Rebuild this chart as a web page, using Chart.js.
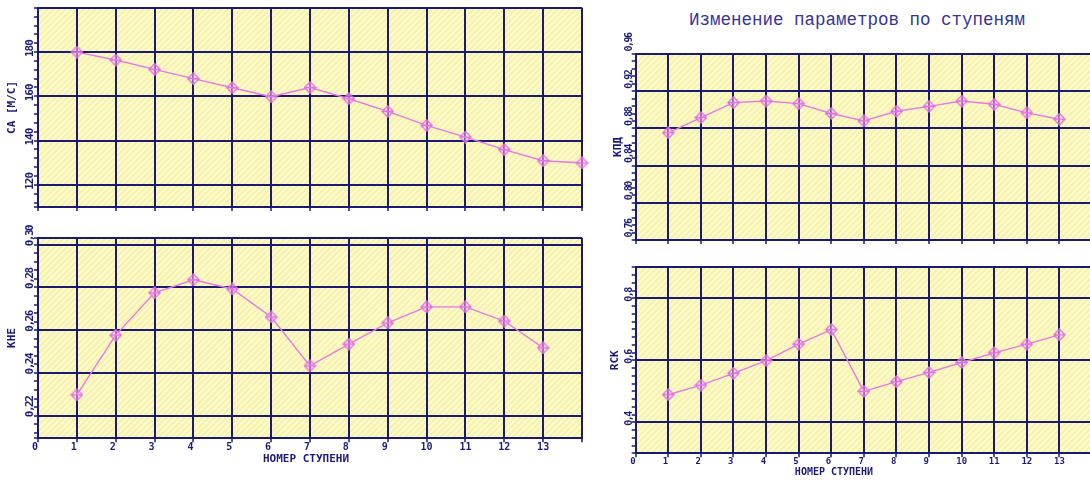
<!DOCTYPE html>
<html lang="ru">
<head>
<meta charset="utf-8">
<title>Изменение параметров по ступеням</title>
<script src="https://cdn.jsdelivr.net/npm/chart.js@4.4.1/dist/chart.umd.min.js"></script>
<style>
  html, body { margin:0; padding:0; width:1090px; height:481px; overflow:hidden; background:#fff; }
  canvas { position:absolute; }
  #title { position:absolute; left:600px; top:11.6px; width:514px; text-align:center;
           font:17.5px/17.5px "Liberation Mono", "DejaVu Sans Mono", monospace;
           color:#34349a; white-space:nowrap; }
</style>
</head>
<body>
<div id="title">Изменение параметров по ступеням</div>
<canvas id="velocity" width="600" height="230" style="left:0;top:0"></canvas>
<canvas id="head" width="600" height="266" style="left:0;top:215px"></canvas>
<canvas id="efficiency" width="500" height="220" style="left:600px;top:30px"></canvas>
<canvas id="reaction" width="500" height="231" style="left:600px;top:250px"></canvas>
<script>
// Stage numbers on the horizontal axes
const stagesWithOutlet = [1, 2, 3, 4, 5, 6, 7, 8, 9, 10, 11, 12, 13, 14];
const stages = [1, 2, 3, 4, 5, 6, 7, 8, 9, 10, 11, 12, 13];
const stageTickLabels = ['0', '1', '2', '3', '4', '5', '6', '7', '8', '9', '10', '11', '12', '13'];

// Axial velocity CA, m/s
const velocity = [180.0, 176.4, 172.2, 168.0, 163.9, 159.8, 164.0, 158.9, 153.2, 146.9, 141.6, 135.9, 130.9, 129.9];
// Head coefficient
const headCoef = [0.2297, 0.2577, 0.2775, 0.2836, 0.2793, 0.2662, 0.2433, 0.2535, 0.2634, 0.2709, 0.2709, 0.2643, 0.2517];
// Stage efficiency
const efficiency = [0.8753, 0.8917, 0.9077, 0.9094, 0.9066, 0.8960, 0.8881, 0.8984, 0.9037, 0.9094, 0.9059, 0.8967, 0.8899];
// Degree of reaction
const reaction = [0.489, 0.520, 0.558, 0.599, 0.652, 0.699, 0.500, 0.531, 0.561, 0.593, 0.624, 0.652, 0.682];

// Labelled values of the vertical axes
const velocityLabels = [120, 140, 160, 180];
const headLabels = [0.22, 0.24, 0.26, 0.28, 0.30];
const efficiencyLabels = [0.76, 0.80, 0.84, 0.88, 0.92, 0.96];
const reactionLabels = [0.4, 0.6, 0.8];

const NAVY = '#1a1a6e';
const TEXT = '#1c1c78';
const LINE = '#e47ae4';
const MONO = '"DejaVu Sans Mono", "Liberation Mono", monospace';

// Pale yellow field with light diagonal hatching
function hatchPattern(ctx) {
  const c = document.createElement('canvas');
  c.width = c.height = 6;
  const g = c.getContext('2d');
  g.fillStyle = '#f7f3a8';
  g.fillRect(0, 0, 6, 6);
  g.strokeStyle = '#fdfbdc';
  g.lineWidth = 1.6;
  g.beginPath();
  g.moveTo(-1, 7); g.lineTo(7, -1);
  g.moveTo(-1, 1); g.lineTo(1, -1);
  g.moveTo(5, 7); g.lineTo(7, 5);
  g.stroke();
  return ctx.createPattern(c, 'repeat');
}

// Diamond marker with a cross inside
function diamondMarker() {
  const s = 13, m = 6.5;
  const c = document.createElement('canvas');
  c.width = c.height = s;
  const g = c.getContext('2d');
  g.strokeStyle = '#e06ce0';
  g.lineWidth = 1.3;
  g.beginPath();
  g.moveTo(m, 0.8); g.lineTo(s - 0.8, m); g.lineTo(m, s - 0.8); g.lineTo(0.8, m); g.closePath();
  g.fillStyle = 'rgba(255,240,255,0.35)';
  g.fill();
  g.stroke();
  g.beginPath();
  g.moveTo(m, 1.8); g.lineTo(m, s - 1.8);
  g.moveTo(1.8, m); g.lineTo(s - 1.8, m);
  g.stroke();
  return c;
}
const marker = diamondMarker();

// Tick list for a vertical axis: frame edges, labelled grid values and minor marks
function yTickList(min, max, gridValues, minorStep) {
  const out = [{ value: min, line: true }, { value: max, line: true }];
  const start = Math.ceil(min / minorStep - 1e-9);
  for (let k = start; k * minorStep <= max + 1e-9; k++) {
    const v = +(k * minorStep).toFixed(6);
    if (Math.abs(v - min) < 1e-9 || Math.abs(v - max) < 1e-9) continue;
    out.push({ value: v, line: gridValues.some(g => Math.abs(g - v) < 1e-7) });
  }
  return out.sort((a, b) => a.value - b.value);
}

function makeChart(spec) {
  const ctx = document.getElementById(spec.id).getContext('2d');

  const decorations = {
    id: 'decorations_' + spec.id,
    beforeDraw(chart) {
      const a = chart.chartArea, c = chart.ctx;
      c.save();
      c.fillStyle = hatchPattern(c);
      c.fillRect(a.left, a.top, a.right - a.left, a.bottom - a.top);
      c.restore();
    },
    afterDraw(chart) {
      const a = chart.chartArea, c = chart.ctx, y = chart.scales.y;
      c.save();
      c.fillStyle = TEXT;
      c.font = spec.labelFont;
      c.letterSpacing = spec.labelSpacing;
      c.textAlign = 'left';
      c.textBaseline = 'middle';
      spec.labels.forEach((v, i) => {
        c.save();
        c.translate(a.left - spec.labelGap, y.getPixelForValue(v) + spec.labelShift);
        c.rotate(-Math.PI / 2);
        c.fillText(spec.labelTexts[i], 0, 0);
        c.restore();
      });
      if (spec.xTitle) {
        c.letterSpacing = '0px';
        c.font = spec.xTitle.font;
        c.textAlign = 'center';
        c.fillText('НОМЕР СТУПЕНИ', spec.xTitle.x, spec.xTitle.y);
      }
      c.restore();
    }
  };

  return new Chart(ctx, {
    type: 'line',
    data: {
      datasets: [{
        data: spec.xs.map((x, i) => ({ x, y: spec.ys[i] })),
        borderColor: LINE,
        borderWidth: 1.4,
        pointStyle: marker,
        pointRadius: 6,
        tension: 0,
        clip: false
      }]
    },
    options: {
      responsive: false,
      animation: false,
      events: [],
      layout: { padding: { top: spec.padTop, right: spec.padRight, left: 0, bottom: 0 } },
      plugins: { legend: { display: false }, tooltip: { enabled: false }, title: { display: false } },
      scales: {
        x: {
          type: 'linear',
          min: 0,
          max: 14,
          afterBuildTicks: s => { s.ticks = stageTickLabels.concat(['']).map((_, v) => ({ value: v, line: true })); },
          afterFit: s => { s.height = spec.xHeight; },
          grid: { color: NAVY, lineWidth: 2, tickLength: 4, tickColor: NAVY, tickWidth: 1.5 },
          border: { display: true, color: NAVY, width: 2 },
          ticks: {
            autoSkip: false,
            maxRotation: 0,
            padding: 0,
            color: TEXT,
            font: { family: MONO, size: spec.tickSize, weight: 'bold', lineHeight: 1 },
            callback: v => {
              if (!spec.showXLabels) return '';
              const t = stageTickLabels[v];
              if (t === undefined) return '';
              return t.length === 1 ? t + ' ' : t;
            }
          }
        },
        y: {
          type: 'linear',
          min: spec.yMin,
          max: spec.yMax,
          afterBuildTicks: s => { s.ticks = yTickList(spec.yMin, spec.yMax, spec.labels, spec.minorStep); },
          afterFit: s => { s.width = spec.yWidth; },
          grid: {
            color: c => (c.tick && c.tick.line ? NAVY : 'rgba(0,0,0,0)'),
            lineWidth: 2,
            tickLength: 4,
            tickColor: NAVY,
            tickWidth: 1.5
          },
          border: { display: true, color: NAVY, width: 2 },
          ticks: { autoSkip: false, callback: () => '', font: { size: 8 } },
          title: {
            display: true,
            text: spec.yTitle,
            color: TEXT,
            font: { family: MONO, size: 11, weight: 'bold', lineHeight: 1.2 },
            padding: { top: spec.yTitlePad, bottom: 0 }
          }
        }
      }
    },
    plugins: [decorations]
  });
}

const comma = d => v => v.toFixed(d).replace('.', ',');

makeChart({
  id: 'velocity', xs: stagesWithOutlet, ys: velocity,
  yMin: 110, yMax: 200, minorStep: 4,
  labels: velocityLabels, labelTexts: velocityLabels.map(String),
  labelFont: 'bold 11px ' + MONO, labelSpacing: '-1px', labelGap: 8, labelShift: 5,
  yTitle: 'СА [М/С]', yTitlePad: 5.9,
  padTop: 7, padRight: 18, yWidth: 38, xHeight: 23,
  tickSize: 10, showXLabels: false
});

makeChart({
  id: 'head', xs: stages, ys: headCoef,
  yMin: 0.2094, yMax: 0.3033, minorStep: 0.004,
  labels: headLabels, labelTexts: headLabels.map(comma(2)),
  labelFont: 'bold 11px ' + MONO, labelSpacing: '-1.5px', labelGap: 8, labelShift: 1.5,
  yTitle: 'КНЕ', yTitlePad: 5.9,
  padTop: 22.7, padRight: 18, yWidth: 38, xHeight: 42.7,
  tickSize: 10, showXLabels: true,
  xTitle: { x: 306, y: 244, font: 'bold 11px ' + MONO }
});

makeChart({
  id: 'efficiency', xs: stages, ys: efficiency,
  yMin: 0.76, yMax: 0.96, minorStep: 0.008,
  labels: efficiencyLabels, labelTexts: efficiencyLabels.map(comma(2)),
  labelFont: 'bold 10px ' + MONO, labelSpacing: '-1.5px', labelGap: 6.5, labelShift: -2.5,
  yTitle: 'КПД', yTitlePad: 11.9,
  padTop: 24, padRight: 8, yWidth: 35.7, xHeight: 10,
  tickSize: 9, showXLabels: false
});

makeChart({
  id: 'reaction', xs: stages, ys: reaction,
  yMin: 0.3, yMax: 0.9, minorStep: 0.025,
  labels: reactionLabels, labelTexts: reactionLabels.map(comma(1)),
  labelFont: 'bold 10px ' + MONO, labelSpacing: '-1.5px', labelGap: 6.5, labelShift: 3.5,
  yTitle: 'RCK', yTitlePad: 8.4,
  padTop: 17.3, padRight: 8, yWidth: 35.7, xHeight: 27.7,
  tickSize: 9, showXLabels: true,
  xTitle: { x: 234, y: 222.5, font: 'bold 10px ' + MONO }
});
</script>
</body>
</html>
